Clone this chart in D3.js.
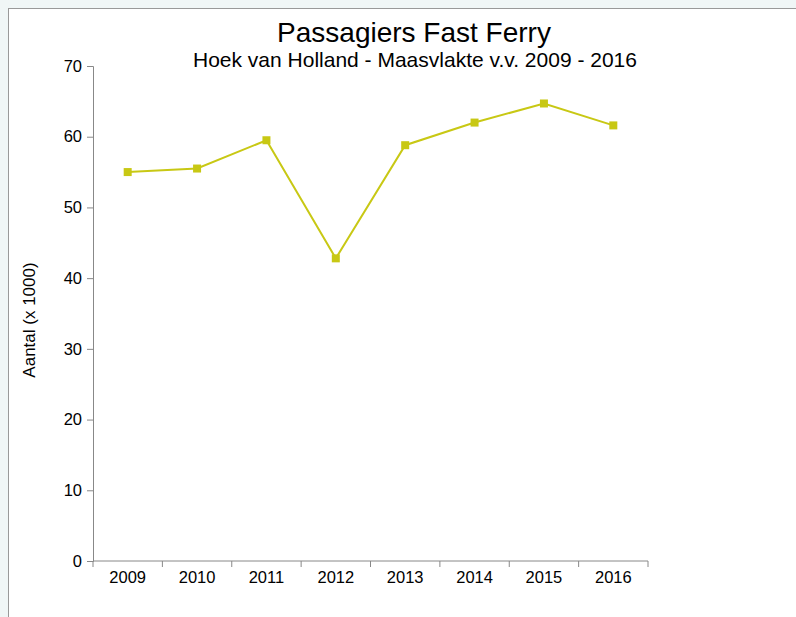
<!DOCTYPE html>
<html>
<head>
<meta charset="utf-8">
<script src="https://cdn.jsdelivr.net/npm/d3@7"></script>
<style>
  body { margin: 0; background: #f0f6f6; }
  #chart { position: absolute; left: 8px; top: 8px; width: 800px; height: 620px;
           background: #fff; border-left: 1px solid #999; border-top: 1px solid #999; }
  text { font-family: "Liberation Sans", Arial, sans-serif; fill: #000; }
</style>
</head>
<body>
<div id="chart"></div>
<script>
const years = ['2009', '2010', '2011', '2012', '2013', '2014', '2015', '2016'];
const passengers = [55.0, 55.5, 59.5, 42.8, 58.8, 62.0, 64.7, 61.6];
const yTicks = [0, 10, 20, 30, 40, 50, 60, 70];

// svg origin sits at page (9, 9)
const margin = { left: 84, right: 161, top: 57, bottom: 57 };
const width = 800 - margin.left - margin.right;
const height = 609 - margin.top - margin.bottom;

const svg = d3.select('#chart')
  .append('svg')
  .attr('width', 800)
  .attr('height', 620);

const g = svg.append('g')
  .attr('transform', 'translate(' + margin.left + ', ' + margin.top + ')');

const x = d3.scaleBand().domain(years).range([0, width]);
const y = d3.scaleLinear().domain([0, 70]).range([height, 0]);

const fontSize = '16.5px';

// x axis: ticks sit on band edges
const xAxis = g.append('g')
  .attr('transform', 'translate(0, ' + height + ')');
xAxis.append('line')
  .attr('x1', 0).attr('x2', width)
  .attr('stroke', '#888');
xAxis.selectAll('.tick')
  .data(years.concat(['end']))
  .join('line')
  .attr('x1', (d, i) => i * x.bandwidth())
  .attr('x2', (d, i) => i * x.bandwidth())
  .attr('y1', 0).attr('y2', 6)
  .attr('stroke', '#888');
xAxis.selectAll('text')
  .data(years)
  .join('text')
  .attr('x', d => x(d) + x.bandwidth() / 2)
  .attr('y', 22)
  .attr('text-anchor', 'middle')
  .attr('font-size', fontSize)
  .text(d => d);

// y axis
const yAxis = g.append('g')
  .call(d3.axisLeft(y).tickValues(yTicks).tickSize(6).tickPadding(5));
yAxis.select('.domain').attr('stroke', '#888');
yAxis.selectAll('.tick line').attr('stroke', '#888');
yAxis.selectAll('.tick text')
  .attr('font-size', fontSize)
  .attr('font-family', '"Liberation Sans", Arial, sans-serif')
  .attr('fill', '#000');

svg.append('text')
  .attr('transform', 'rotate(-90)')
  .attr('x', -311)
  .attr('y', 26)
  .attr('text-anchor', 'middle')
  .attr('font-size', '17px')
  .text('Aantal (x 1000)');

// titles
svg.append('text')
  .attr('x', 405)
  .attr('y', 33)
  .attr('text-anchor', 'middle')
  .attr('font-size', '28px')
  .text('Passagiers Fast Ferry');
svg.append('text')
  .attr('x', 406)
  .attr('y', 58)
  .attr('text-anchor', 'middle')
  .attr('font-size', '21px')
  .text('Hoek van Holland - Maasvlakte v.v. 2009 - 2016');

// series
const colour = '#c8c814';
const line = d3.line()
  .x((d, i) => x(years[i]) + x.bandwidth() / 2)
  .y(d => y(d));

g.append('path')
  .datum(passengers)
  .attr('fill', 'none')
  .attr('stroke', colour)
  .attr('stroke-width', 2)
  .attr('d', line);

g.selectAll('.marker')
  .data(passengers)
  .join('rect')
  .attr('class', 'marker')
  .attr('x', (d, i) => x(years[i]) + x.bandwidth() / 2 - 4)
  .attr('y', d => y(d) - 4)
  .attr('width', 8)
  .attr('height', 8)
  .attr('fill', colour);
</script>
</body>
</html>
